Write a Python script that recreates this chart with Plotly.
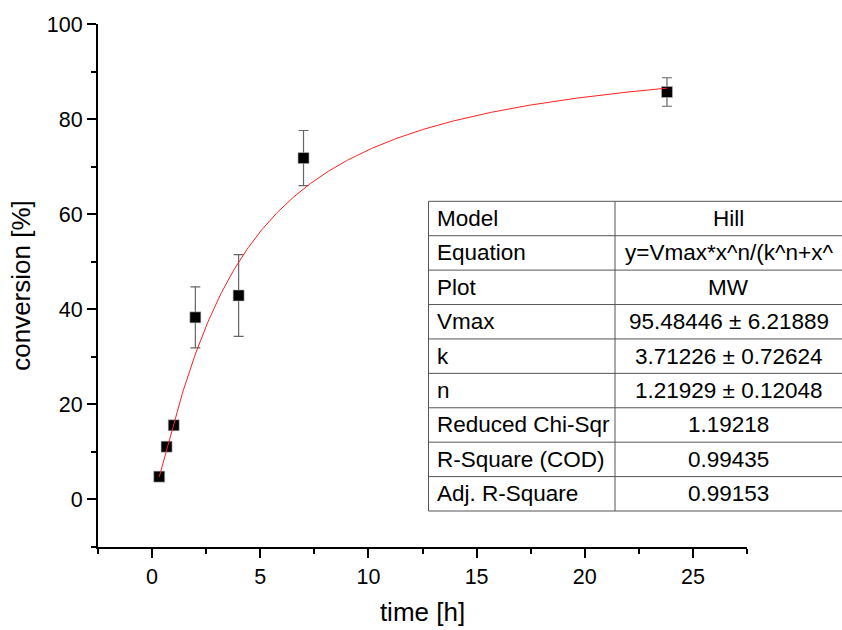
import numpy as np
import plotly.graph_objects as go

# Measured conversion over time (mean ± SD)
time_h = [0.33, 0.67, 1.0, 2.0, 4.0, 7.0, 23.8]
conversion = [4.8, 11.1, 15.6, 38.3, 42.9, 71.8, 85.7]
conversion_err = [0.8, 0.8, 0.8, 6.4, 8.6, 5.8, 3.0]

# Hill fit parameters
vmax, k_half, n_hill = 95.48446, 3.71226, 1.21929

# Fit report table
table_labels = ["Model", "Equation", "Plot", "Vmax", "k", "n",
                "Reduced Chi-Sqr", "R-Square (COD)", "Adj. R-Square"]
table_values = ["Hill", "y=Vmax*x^n/(k^n+x^", "MW",
                "95.48446 ± 6.21889", "3.71226 ± 0.72624", "1.21929 ± 0.12048",
                "1.19218", "0.99435", "0.99153"]

FONT = "Liberation Sans, Arial, sans-serif"
W, H = 842, 630
M_L, M_R, M_T, M_B = 98, 95, 24, 83
PW, PH = W - M_L - M_R, H - M_T - M_B


def px_x(px):
    return (px - M_L) / PW


def px_y(py):
    return (H - M_B - py) / PH


x_fit = np.linspace(time_h[0], time_h[-1], 400)
y_fit = vmax * x_fit ** n_hill / (k_half ** n_hill + x_fit ** n_hill)

fig = go.Figure()
fig.add_trace(go.Scatter(
    x=time_h, y=conversion, mode="markers",
    marker=dict(symbol="square", size=11, color="black",
                line=dict(width=0.6, color="#bbbbbb")),
    error_y=dict(type="data", array=conversion_err, visible=True,
                 color="#666666", thickness=1.2, width=5),
    showlegend=False,
))
fig.add_trace(go.Scatter(
    x=x_fit, y=y_fit, mode="lines",
    line=dict(color="#ff2020", width=1),
    showlegend=False,
))

# Table with fit results
t_left, t_div, t_right = 428.5, 615, 846
t_top, t_bot = 201.3, 511
n_rows = len(table_labels)
row_h = (t_bot - t_top) / n_rows
line_style = dict(color="#555555", width=1)
shapes = [
    dict(type="rect", xref="paper", yref="paper",
         x0=px_x(t_left), x1=px_x(t_right), y0=px_y(t_bot), y1=px_y(t_top),
         line=line_style, fillcolor="white", layer="above"),
    dict(type="line", xref="paper", yref="paper",
         x0=px_x(t_div), x1=px_x(t_div), y0=px_y(t_bot), y1=px_y(t_top),
         line=line_style, layer="above"),
]
for i in range(1, n_rows):
    yy = px_y(t_top + i * row_h)
    shapes.append(dict(type="line", xref="paper", yref="paper",
                       x0=px_x(t_left), x1=px_x(t_right), y0=yy, y1=yy,
                       line=line_style, layer="above"))

annotations = []
for i, (lab, val) in enumerate(zip(table_labels, table_values)):
    yc = px_y(t_top + (i + 0.5) * row_h)
    annotations.append(dict(xref="paper", yref="paper", x=px_x(t_left + 6), y=yc,
                            text=lab, showarrow=False, xanchor="left", yanchor="middle",
                            font=dict(family=FONT, size=22.5, color="black")))
    annotations.append(dict(xref="paper", yref="paper", x=px_x(728.5), y=yc,
                            text=val, showarrow=False, xanchor="center", yanchor="middle",
                            font=dict(family=FONT, size=22.5, color="black")))

axis_common = dict(
    showline=True, linecolor="black", linewidth=2,
    ticks="outside", ticklen=9, tickwidth=2, tickcolor="black",
    showgrid=False, zeroline=False, mirror=False, automargin=False,
    tickfont=dict(family=FONT, size=21.5, color="black"),
)

fig.update_layout(
    width=W, height=H,
    margin=dict(l=M_L, r=M_R, t=M_T, b=M_B),
    paper_bgcolor="white", plot_bgcolor="white",
    xaxis=dict(range=[-2.5, 27.5], tick0=0, dtick=5,
               minor=dict(dtick=2.5, tick0=0, ticks="outside", ticklen=5,
                          tickwidth=2, tickcolor="black"),
               title=dict(text="time [h]", font=dict(family=FONT, size=26, color="black"),
                          standoff=15),
               **axis_common),
    yaxis=dict(range=[-10, 100], tick0=0, dtick=20,
               minor=dict(dtick=10, tick0=0, ticks="outside", ticklen=5,
                          tickwidth=2, tickcolor="black"),
               title=dict(text="conversion [%]", font=dict(family=FONT, size=26, color="black"),
                          standoff=9),
               **axis_common),
    shapes=shapes,
    annotations=annotations,
)

fig.write_html("out.html")
